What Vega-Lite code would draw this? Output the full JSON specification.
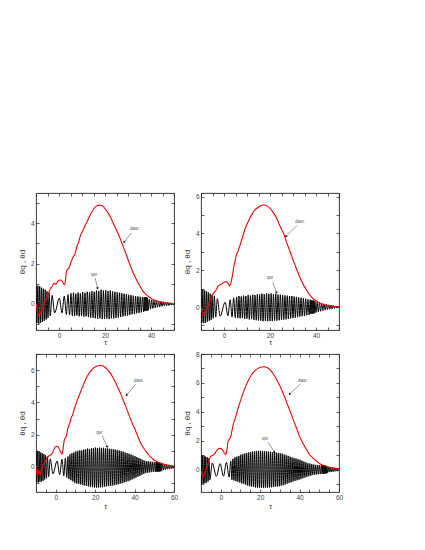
{
"$schema": "https://vega.github.io/schema/vega-lite/v6.json",
"padding": {"left": 17, "top": 192, "right": 5, "bottom": 5},
"background": "white",
"config": {
  "view": {"stroke": "#222", "strokeWidth": 0.9},
  "axis": {"grid": false, "domain": false, "tickSize": -3, "tickColor": "#222", "tickWidth": 0.7, "labelFont": "Liberation Sans", "labelFontSize": 6.5, "labelColor": "#444", "labelPadding": 5, "titleFont": "Liberation Sans", "titleFontSize": 8, "titleColor": "#333", "titleFontWeight": "normal", "labelFlush": false, "labelOverlap": false, "labelBound": false}
},
"datasets": {
"b1": [{"t":-10,"v":0.85},{"t":-9.6,"v":-0.95},{"t":-9.2,"v":0.9},{"t":-8.8,"v":-1.0},{"t":-8.4,"v":0.88},{"t":-8.0,"v":-0.95},{"t":-7.6,"v":0.8},{"t":-7.2,"v":-0.9},{"t":-6.8,"v":0.75},{"t":-6.4,"v":-0.85},{"t":-6.0,"v":0.7},{"t":-5.6,"v":-0.78},{"t":-5.2,"v":0.62},{"t":-4.8,"v":-0.7},{"t":-4.3,"v":0.55},{"t":-3.8,"v":-0.6},{"t":-3.0,"v":0.42},{"t":-1.9,"v":-0.45},{"t":0.15,"v":0.27},{"t":1.3,"v":-0.45},{"t":2.3,"v":0.38},{"t":3.2,"v":-0.53},{"t":3.9,"v":0.46},{"t":4.6,"v":-0.55},{"t":5.2,"v":0.52},{"t":5.8,"v":-0.6},
{"t":6.3,"v":0.55},{"t":6.8,"v":-0.6},{"t":7.3,"v":0.5},{"t":7.8,"v":-0.58},{"t":8.3,"v":0.56},{"t":8.8,"v":-0.62},{"t":9.3,"v":0.52},{"t":9.8,"v":-0.6},{"t":10.3,"v":0.58},{"t":10.8,"v":-0.64},{"t":11.3,"v":0.55},{"t":11.8,"v":-0.62},{"t":12.3,"v":0.6},{"t":12.8,"v":-0.66},{"t":13.3,"v":0.58},{"t":13.8,"v":-0.68},{"t":14.3,"v":0.63},{"t":14.8,"v":-0.7},{"t":15.3,"v":0.6},{"t":15.8,"v":-0.72},{"t":16.3,"v":0.66},{"t":16.8,"v":-0.74},{"t":17.3,"v":0.64},{"t":17.8,"v":-0.72},{"t":18.3,"v":0.7},{"t":18.8,"v":-0.76},{"t":19.3,"v":0.66},{"t":19.8,"v":-0.75},{"t":20.3,"v":0.68},{"t":20.8,"v":-0.74},{"t":21.3,"v":0.64},{"t":21.8,"v":-0.76},{"t":22.3,"v":0.66},{"t":22.8,"v":-0.72},{"t":23.3,"v":0.62},{"t":23.8,"v":-0.73},{"t":24.3,"v":0.6},{"t":24.8,"v":-0.7},{"t":25.3,"v":0.58},{"t":25.8,"v":-0.68},{"t":26.3,"v":0.55},{"t":26.8,"v":-0.66},{"t":27.3,"v":0.53},{"t":27.8,"v":-0.63},{"t":28.3,"v":0.5},{"t":28.8,"v":-0.6},{"t":29.3,"v":0.48},{"t":29.8,"v":-0.58},{"t":30.3,"v":0.45},{"t":30.8,"v":-0.55},{"t":31.3,"v":0.43},{"t":31.8,"v":-0.52},{"t":32.3,"v":0.4},{"t":32.8,"v":-0.5},{"t":33.3,"v":0.38},{"t":33.8,"v":-0.47},{"t":34.3,"v":0.37},{"t":34.8,"v":-0.45},{"t":35.3,"v":0.35},{"t":35.8,"v":-0.42},{"t":36.3,"v":0.34},{"t":36.8,"v":-0.4},{"t":37.05,"v":0.33},{"t":37.3,"v":-0.36},{"t":37.55,"v":0.34},{"t":37.8,"v":-0.36},{"t":38.05,"v":0.33},{"t":38.3,"v":-0.35},{"t":38.55,"v":0.3},{"t":38.8,"v":-0.32},{"t":39.3,"v":0.22},{"t":39.8,"v":-0.26},{"t":40.3,"v":0.2},{"t":40.8,"v":-0.23},{"t":41.3,"v":0.18},{"t":41.8,"v":-0.2},{"t":42.3,"v":0.16},{"t":42.8,"v":-0.17},{"t":43.3,"v":0.14},{"t":43.8,"v":-0.15},{"t":44.3,"v":0.12},{"t":44.8,"v":-0.13},{"t":45.3,"v":0.1},{"t":45.8,"v":-0.11},{"t":46.3,"v":0.09},{"t":46.8,"v":-0.09},{"t":47.3,"v":0.07},{"t":47.8,"v":-0.08},{"t":48.3,"v":0.06},{"t":48.8,"v":-0.06},{"t":49.3,"v":0.04},{"t":49.8,"v":-0.04},{"t":50,"v":0}],
"r1": [{"t":-10,"v":0.0},{"t":-9.3,"v":-0.45},{"t":-8.8,"v":-0.6},{"t":-8.0,"v":-0.45},{"t":-6.6,"v":0.0},{"t":-5.5,"v":0.3},{"t":-4.5,"v":0.55},{"t":-3.8,"v":0.75},{"t":-3.0,"v":0.85},{"t":-2.2,"v":1.02},{"t":-1.5,"v":0.97},{"t":-0.5,"v":1.12},{"t":0.6,"v":1.18},{"t":1.5,"v":1.12},{"t":2.3,"v":0.93},{"t":2.8,"v":1.15},{"t":3.2,"v":1.6},{"t":3.8,"v":1.72},{"t":4.2,"v":1.75},{"t":5.3,"v":2.1},{"t":6.3,"v":2.35},{"t":6.8,"v":2.42},{"t":7.8,"v":2.85},{"t":8.5,"v":3.05},{"t":9.2,"v":3.35},{"t":10.2,"v":3.6},{"t":11.4,"v":3.9},{"t":12.5,"v":4.15},{"t":13.5,"v":4.4},{"t":14.6,"v":4.62},{"t":15.7,"v":4.8},{"t":16.6,"v":4.87},{"t":17.6,"v":4.9},{"t":18.5,"v":4.88},{"t":19.3,"v":4.82},{"t":20.3,"v":4.68},{"t":21.4,"v":4.5},{"t":22.5,"v":4.27},{"t":23.6,"v":4.0},{"t":24.7,"v":3.73},{"t":25.8,"v":3.45},{"t":26.9,"v":3.15},{"t":27.9,"v":2.85},{"t":29.0,"v":2.52},{"t":30.0,"v":2.2},{"t":31.1,"v":1.87},{"t":32.2,"v":1.55},{"t":33.3,"v":1.28},{"t":34.4,"v":1.05},{"t":35.5,"v":0.82},{"t":36.5,"v":0.63},{"t":37.6,"v":0.5},{"t":38.7,"v":0.38},{"t":39.8,"v":0.29},{"t":40.9,"v":0.22},{"t":42.3,"v":0.15},{"t":43.7,"v":0.1},{"t":45.1,"v":0.07},{"t":46.6,"v":0.04},{"t":48.3,"v":0.02},{"t":50,"v":0.0}],
"b2": [{"t":-10,"v":0.95},{"t":-9.6,"v":-0.85},{"t":-9.2,"v":0.95},{"t":-8.8,"v":-0.88},{"t":-8.4,"v":0.9},{"t":-8.0,"v":-0.85},{"t":-7.6,"v":0.85},{"t":-7.2,"v":-0.8},{"t":-6.8,"v":0.8},{"t":-6.4,"v":-0.75},{"t":-6.0,"v":0.72},{"t":-5.6,"v":-0.7},{"t":-5.2,"v":0.65},{"t":-4.7,"v":-0.62},{"t":-4.2,"v":0.6},{"t":-3.6,"v":-0.55},{"t":-2.9,"v":0.45},{"t":-1.7,"v":-0.5},{"t":0.5,"v":0.26},{"t":1.7,"v":-0.48},{"t":2.7,"v":0.4},{"t":3.5,"v":-0.55},{"t":4.2,"v":0.5},{"t":4.9,"v":-0.58},{"t":5.5,"v":0.55},{"t":6.0,"v":-0.6},
{"t":6.5,"v":0.6},{"t":7.0,"v":-0.62},{"t":7.5,"v":0.57},{"t":8.0,"v":-0.6},{"t":8.5,"v":0.62},{"t":9.0,"v":-0.64},{"t":9.5,"v":0.6},{"t":10.0,"v":-0.63},{"t":10.5,"v":0.65},{"t":11.0,"v":-0.68},{"t":11.5,"v":0.62},{"t":12.0,"v":-0.66},{"t":12.5,"v":0.67},{"t":13.0,"v":-0.7},{"t":13.5,"v":0.65},{"t":14.0,"v":-0.72},{"t":14.5,"v":0.7},{"t":15.0,"v":-0.74},{"t":15.5,"v":0.68},{"t":16.0,"v":-0.75},{"t":16.5,"v":0.73},{"t":17.0,"v":-0.77},{"t":17.5,"v":0.7},{"t":18.0,"v":-0.76},{"t":18.5,"v":0.75},{"t":19.0,"v":-0.78},{"t":19.5,"v":0.72},{"t":20.0,"v":-0.76},{"t":20.5,"v":0.74},{"t":21.0,"v":-0.77},{"t":21.5,"v":0.7},{"t":22.0,"v":-0.75},{"t":22.5,"v":0.72},{"t":23.0,"v":-0.74},{"t":23.5,"v":0.68},{"t":24.0,"v":-0.72},{"t":24.5,"v":0.67},{"t":25.0,"v":-0.7},{"t":25.5,"v":0.65},{"t":26.0,"v":-0.69},{"t":26.5,"v":0.63},{"t":27.0,"v":-0.67},{"t":27.5,"v":0.62},{"t":28.0,"v":-0.65},{"t":28.5,"v":0.6},{"t":29.0,"v":-0.62},{"t":29.5,"v":0.6},{"t":30.0,"v":-0.6},{"t":30.5,"v":0.57},{"t":31.0,"v":-0.58},{"t":31.5,"v":0.55},{"t":32.0,"v":-0.55},{"t":32.5,"v":0.52},{"t":33.0,"v":-0.52},{"t":33.5,"v":0.5},{"t":34.0,"v":-0.5},{"t":34.5,"v":0.47},{"t":35.0,"v":-0.48},{"t":35.5,"v":0.45},{"t":36.0,"v":-0.45},{"t":36.5,"v":0.42},{"t":37.0,"v":-0.43},{"t":37.5,"v":0.4},{"t":37.75,"v":-0.38},{"t":38.0,"v":0.37},{"t":38.25,"v":-0.37},{"t":38.5,"v":0.36},{"t":38.75,"v":-0.36},{"t":39.0,"v":0.35},{"t":39.25,"v":-0.34},{"t":39.5,"v":0.32},{"t":40.0,"v":-0.3},{"t":40.5,"v":0.28},{"t":41.0,"v":-0.27},{"t":41.5,"v":0.24},{"t":42.0,"v":-0.23},{"t":42.5,"v":0.2},{"t":43.0,"v":-0.2},{"t":43.5,"v":0.17},{"t":44.0,"v":-0.17},{"t":44.5,"v":0.14},{"t":45.0,"v":-0.14},{"t":45.5,"v":0.12},{"t":46.0,"v":-0.12},{"t":46.5,"v":0.1},{"t":47.0,"v":-0.1},{"t":47.5,"v":0.08},{"t":48.0,"v":-0.08},{"t":48.5,"v":0.06},{"t":49.0,"v":-0.06},{"t":49.5,"v":0.04},{"t":50.0,"v":-0.03}],
"r2": [{"t":-10,"v":0.0},{"t":-9.3,"v":-0.35},{"t":-8.7,"v":-0.45},{"t":-8.0,"v":-0.3},{"t":-7.0,"v":0.0},{"t":-6.2,"v":0.3},{"t":-5.5,"v":0.55},{"t":-4.5,"v":0.75},{"t":-3.3,"v":0.95},{"t":-2.5,"v":1.15},{"t":-1.9,"v":1.2},{"t":-1.0,"v":1.25},{"t":0.0,"v":1.35},{"t":1.0,"v":1.38},{"t":1.8,"v":1.28},{"t":2.4,"v":1.15},{"t":3.0,"v":1.3},{"t":3.5,"v":1.6},{"t":4.3,"v":2.2},{"t":4.8,"v":2.5},{"t":5.3,"v":2.8},{"t":6.0,"v":3.0},{"t":6.8,"v":3.3},{"t":7.8,"v":3.7},{"t":8.9,"v":4.15},{"t":10.0,"v":4.5},{"t":11.1,"v":4.8},{"t":12.2,"v":5.05},{"t":13.2,"v":5.25},{"t":14.3,"v":5.37},{"t":15.4,"v":5.47},{"t":16.5,"v":5.53},{"t":17.6,"v":5.55},{"t":18.6,"v":5.5},{"t":19.7,"v":5.4},{"t":20.8,"v":5.24},{"t":21.9,"v":5.05},{"t":23.0,"v":4.8},{"t":24.0,"v":4.5},{"t":25.1,"v":4.2},{"t":26.2,"v":3.9},{"t":27.2,"v":3.53},{"t":28.3,"v":3.15},{"t":29.4,"v":2.78},{"t":30.5,"v":2.4},{"t":31.6,"v":2.05},{"t":32.7,"v":1.7},{"t":33.7,"v":1.42},{"t":34.8,"v":1.15},{"t":35.9,"v":0.92},{"t":37.0,"v":0.7},{"t":38.0,"v":0.55},{"t":39.1,"v":0.42},{"t":40.5,"v":0.3},{"t":42.0,"v":0.2},{"t":43.5,"v":0.13},{"t":44.9,"v":0.09},{"t":46.5,"v":0.06},{"t":48.2,"v":0.03},{"t":50,"v":0.02}],
"b3": [{"t":-10,"v":0.95},{"t":-9.6,"v":-0.95},{"t":-9.2,"v":1.0},{"t":-8.8,"v":-0.97},{"t":-8.4,"v":0.95},{"t":-8.0,"v":-0.92},{"t":-7.6,"v":0.9},{"t":-7.2,"v":-0.9},{"t":-6.8,"v":0.85},{"t":-6.4,"v":-0.85},{"t":-6.0,"v":0.8},{"t":-5.6,"v":-0.78},{"t":-5.2,"v":0.72},{"t":-4.7,"v":-0.7},{"t":-4.2,"v":0.65},{"t":-3.6,"v":-0.6},{"t":-2.8,"v":0.5},{"t":-1.4,"v":-0.42},{"t":0.7,"v":0.37},{"t":2.0,"v":-0.47},{"t":3.2,"v":0.48},{"t":4.1,"v":-0.55},{"t":4.9,"v":0.55},{"t":5.6,"v":-0.65},{"t":6.2,"v":0.65},
{"t":6.7,"v":-0.75},{"t":7.2,"v":0.78},{"t":7.7,"v":-0.82},{"t":8.2,"v":0.85},{"t":8.7,"v":-0.9},{"t":9.2,"v":0.9},{"t":9.7,"v":-0.98},{"t":10.2,"v":0.97},{"t":10.7,"v":-1.03},{"t":11.2,"v":1.0},{"t":11.7,"v":-1.05},{"t":12.2,"v":1.03},{"t":12.7,"v":-1.08},{"t":13.2,"v":1.02},{"t":13.7,"v":-1.12},{"t":14.2,"v":1.08},{"t":14.7,"v":-1.15},{"t":15.2,"v":1.1},{"t":15.7,"v":-1.18},{"t":16.2,"v":1.14},{"t":16.7,"v":-1.2},{"t":17.2,"v":1.12},{"t":17.7,"v":-1.23},{"t":18.2,"v":1.17},{"t":18.7,"v":-1.25},{"t":19.2,"v":1.18},{"t":19.7,"v":-1.27},{"t":20.2,"v":1.2},{"t":20.7,"v":-1.28},{"t":21.2,"v":1.17},{"t":21.7,"v":-1.27},{"t":22.2,"v":1.2},{"t":22.7,"v":-1.26},{"t":23.2,"v":1.18},{"t":23.7,"v":-1.25},{"t":24.2,"v":1.19},{"t":24.7,"v":-1.22},{"t":25.2,"v":1.15},{"t":25.7,"v":-1.2},{"t":26.2,"v":1.16},{"t":26.7,"v":-1.18},{"t":27.2,"v":1.13},{"t":27.7,"v":-1.17},{"t":28.2,"v":1.12},{"t":28.7,"v":-1.15},{"t":29.2,"v":1.1},{"t":29.7,"v":-1.13},{"t":30.2,"v":1.08},{"t":30.7,"v":-1.1},{"t":31.2,"v":1.05},{"t":31.7,"v":-1.07},{"t":32.2,"v":1.02},{"t":32.7,"v":-1.04},{"t":33.2,"v":0.98},{"t":33.7,"v":-1.0},{"t":34.2,"v":0.95},{"t":34.7,"v":-0.96},{"t":35.2,"v":0.9},{"t":35.7,"v":-0.92},{"t":36.2,"v":0.86},{"t":36.7,"v":-0.88},{"t":37.2,"v":0.82},{"t":37.7,"v":-0.83},{"t":38.2,"v":0.77},{"t":38.7,"v":-0.78},{"t":39.2,"v":0.72},{"t":39.7,"v":-0.72},{"t":40.2,"v":0.67},{"t":40.7,"v":-0.66},{"t":41.2,"v":0.62},{"t":41.7,"v":-0.6},{"t":42.2,"v":0.56},{"t":42.7,"v":-0.55},{"t":43.2,"v":0.5},{"t":43.7,"v":-0.48},{"t":44.2,"v":0.44},{"t":44.7,"v":-0.42},{"t":45.2,"v":0.39},{"t":45.7,"v":-0.38},{"t":46.2,"v":0.36},{"t":46.7,"v":-0.35},{"t":47.2,"v":0.34},{"t":47.7,"v":-0.33},{"t":48.2,"v":0.33},{"t":48.7,"v":-0.32},{"t":49.2,"v":0.32},{"t":49.7,"v":-0.31},{"t":50.2,"v":0.31},{"t":50.7,"v":-0.3},{"t":51.0,"v":0.3},{"t":51.25,"v":-0.3},{"t":51.5,"v":0.3},{"t":51.75,"v":-0.3},{"t":52.0,"v":0.29},{"t":52.25,"v":-0.29},{"t":52.5,"v":0.28},{"t":52.75,"v":-0.28},{"t":53.0,"v":0.27},{"t":53.25,"v":-0.27},{"t":53.5,"v":0.25},{"t":53.75,"v":-0.25},{"t":54.2,"v":0.2},{"t":54.7,"v":-0.19},{"t":55.2,"v":0.17},{"t":55.7,"v":-0.16},{"t":56.2,"v":0.15},{"t":56.7,"v":-0.14},{"t":57.2,"v":0.13},{"t":57.7,"v":-0.12},{"t":58.2,"v":0.11},{"t":58.7,"v":-0.1},{"t":59.2,"v":0.09},{"t":59.7,"v":-0.08},{"t":60.0,"v":0.05}],
"r3": [{"t":-10,"v":0.1},{"t":-9.3,"v":-0.6},{"t":-8.6,"v":-0.2},{"t":-7.8,"v":-0.5},{"t":-6.8,"v":0.0},{"t":-5.5,"v":0.3},{"t":-4.5,"v":0.55},{"t":-3.5,"v":0.68},{"t":-2.5,"v":0.75},{"t":-1.5,"v":0.9},{"t":-0.5,"v":1.2},{"t":0.3,"v":1.28},{"t":1.2,"v":1.25},{"t":2.2,"v":1.0},{"t":3.2,"v":0.79},{"t":3.8,"v":1.2},{"t":4.4,"v":1.7},{"t":5.4,"v":1.9},{"t":6.0,"v":2.3},{"t":6.6,"v":2.55},{"t":7.2,"v":2.75},{"t":7.8,"v":3.05},{"t":8.5,"v":3.2},{"t":9.2,"v":3.5},{"t":10.0,"v":3.8},{"t":10.8,"v":4.1},{"t":12.1,"v":4.5},{"t":13.4,"v":4.9},{"t":14.6,"v":5.25},{"t":15.9,"v":5.6},{"t":17.2,"v":5.85},{"t":18.5,"v":6.05},{"t":19.7,"v":6.18},{"t":21.0,"v":6.25},{"t":22.0,"v":6.29},{"t":23.0,"v":6.3},{"t":24.1,"v":6.25},{"t":25.3,"v":6.15},{"t":26.5,"v":6.0},{"t":27.8,"v":5.8},{"t":29.0,"v":5.55},{"t":30.3,"v":5.25},{"t":31.6,"v":4.9},{"t":32.9,"v":4.55},{"t":34.1,"v":4.18},{"t":35.4,"v":3.8},{"t":36.7,"v":3.37},{"t":38.0,"v":2.95},{"t":39.2,"v":2.6},{"t":40.5,"v":2.25},{"t":41.8,"v":1.85},{"t":43.0,"v":1.5},{"t":44.3,"v":1.22},{"t":45.6,"v":1.0},{"t":46.9,"v":0.8},{"t":48.1,"v":0.62},{"t":49.4,"v":0.48},{"t":50.7,"v":0.37},{"t":52.0,"v":0.29},{"t":53.2,"v":0.23},{"t":54.9,"v":0.17},{"t":56.6,"v":0.12},{"t":58.3,"v":0.09},{"t":60,"v":0.06}],
"b4": [{"t":-10,"v":0.95},{"t":-9.6,"v":-1.0},{"t":-9.2,"v":0.98},{"t":-8.8,"v":-0.97},{"t":-8.4,"v":0.95},{"t":-8.0,"v":-0.95},{"t":-7.6,"v":0.9},{"t":-7.2,"v":-0.9},{"t":-6.8,"v":0.85},{"t":-6.4,"v":-0.82},{"t":-6.0,"v":0.78},{"t":-5.5,"v":-0.7},{"t":-4.3,"v":0.46},{"t":-2.2,"v":-0.46},{"t":-0.3,"v":0.41},{"t":1.4,"v":-0.46},{"t":2.9,"v":0.5},{"t":4.3,"v":-0.52},{"t":5.1,"v":0.6},{"t":5.7,"v":-0.7},
{"t":6.2,"v":0.75},{"t":6.7,"v":-0.75},{"t":7.2,"v":0.85},{"t":7.7,"v":-0.8},{"t":8.2,"v":0.9},{"t":8.7,"v":-0.85},{"t":9.2,"v":0.95},{"t":9.7,"v":-0.9},{"t":10.2,"v":1.03},{"t":10.7,"v":-0.95},{"t":11.2,"v":1.07},{"t":11.7,"v":-1.0},{"t":12.2,"v":1.12},{"t":12.7,"v":-1.05},{"t":13.2,"v":1.15},{"t":13.7,"v":-1.1},{"t":14.2,"v":1.2},{"t":14.7,"v":-1.15},{"t":15.2,"v":1.22},{"t":15.7,"v":-1.18},{"t":16.2,"v":1.25},{"t":16.7,"v":-1.2},{"t":17.2,"v":1.27},{"t":17.7,"v":-1.23},{"t":18.2,"v":1.29},{"t":18.7,"v":-1.25},{"t":19.2,"v":1.3},{"t":19.7,"v":-1.26},{"t":20.2,"v":1.3},{"t":20.7,"v":-1.27},{"t":21.2,"v":1.29},{"t":21.7,"v":-1.27},{"t":22.2,"v":1.28},{"t":22.7,"v":-1.26},{"t":23.2,"v":1.27},{"t":23.7,"v":-1.25},{"t":24.2,"v":1.25},{"t":24.7,"v":-1.23},{"t":25.2,"v":1.23},{"t":25.7,"v":-1.22},{"t":26.2,"v":1.21},{"t":26.7,"v":-1.2},{"t":27.2,"v":1.19},{"t":27.7,"v":-1.18},{"t":28.2,"v":1.17},{"t":28.7,"v":-1.16},{"t":29.2,"v":1.15},{"t":29.7,"v":-1.15},{"t":30.2,"v":1.13},{"t":30.7,"v":-1.12},{"t":31.2,"v":1.1},{"t":31.7,"v":-1.08},{"t":32.2,"v":1.05},{"t":32.7,"v":-1.03},{"t":33.2,"v":1.0},{"t":33.7,"v":-0.98},{"t":34.2,"v":0.95},{"t":34.7,"v":-0.93},{"t":35.2,"v":0.9},{"t":35.7,"v":-0.88},{"t":36.2,"v":0.85},{"t":36.7,"v":-0.83},{"t":37.2,"v":0.8},{"t":37.7,"v":-0.78},{"t":38.2,"v":0.76},{"t":38.7,"v":-0.74},{"t":39.2,"v":0.72},{"t":39.7,"v":-0.7},{"t":40.2,"v":0.68},{"t":40.7,"v":-0.66},{"t":41.2,"v":0.62},{"t":41.7,"v":-0.6},{"t":42.2,"v":0.56},{"t":42.7,"v":-0.55},{"t":43.2,"v":0.5},{"t":43.7,"v":-0.5},{"t":44.2,"v":0.45},{"t":44.7,"v":-0.46},{"t":45.2,"v":0.42},{"t":45.7,"v":-0.42},{"t":46.2,"v":0.38},{"t":46.7,"v":-0.38},{"t":47.2,"v":0.35},{"t":47.7,"v":-0.35},{"t":48.2,"v":0.33},{"t":48.7,"v":-0.33},{"t":49.2,"v":0.32},{"t":49.7,"v":-0.32},{"t":50.2,"v":0.31},{"t":50.7,"v":-0.31},{"t":51.2,"v":0.31},{"t":51.5,"v":-0.3},{"t":51.75,"v":0.3},{"t":52.0,"v":-0.3},{"t":52.25,"v":0.29},{"t":52.5,"v":-0.29},{"t":52.75,"v":0.28},{"t":53.0,"v":-0.28},{"t":53.25,"v":0.27},{"t":53.5,"v":-0.26},{"t":53.75,"v":0.25},{"t":54.0,"v":-0.24},{"t":54.5,"v":0.2},{"t":55.0,"v":-0.18},{"t":55.5,"v":0.17},{"t":56.0,"v":-0.16},{"t":56.5,"v":0.15},{"t":57.0,"v":-0.14},{"t":57.5,"v":0.13},{"t":58.0,"v":-0.12},{"t":58.5,"v":0.12},{"t":59.0,"v":-0.11},{"t":59.5,"v":0.1},{"t":60.0,"v":-0.06}],
"r4": [{"t":-10,"v":-0.1},{"t":-9.0,"v":-0.5},{"t":-8.2,"v":-0.3},{"t":-7.2,"v":0.1},{"t":-6.2,"v":0.55},{"t":-5.1,"v":0.92},{"t":-4.2,"v":0.98},{"t":-3.4,"v":1.03},{"t":-2.4,"v":1.25},{"t":-1.4,"v":1.43},{"t":-0.3,"v":1.47},{"t":0.8,"v":1.38},{"t":1.7,"v":1.18},{"t":2.6,"v":1.03},{"t":3.2,"v":1.4},{"t":3.7,"v":1.95},{"t":4.4,"v":2.1},{"t":5.1,"v":2.3},{"t":5.8,"v":2.75},{"t":6.5,"v":3.2},{"t":7.1,"v":3.45},{"t":7.7,"v":3.7},{"t":8.5,"v":4.1},{"t":9.4,"v":4.5},{"t":10.6,"v":5.0},{"t":11.9,"v":5.5},{"t":13.2,"v":5.95},{"t":14.5,"v":6.3},{"t":15.7,"v":6.58},{"t":17.0,"v":6.8},{"t":18.3,"v":6.95},{"t":19.6,"v":7.05},{"t":20.9,"v":7.1},{"t":22.1,"v":7.12},{"t":23.4,"v":7.07},{"t":24.7,"v":6.95},{"t":26.0,"v":6.75},{"t":27.3,"v":6.5},{"t":28.5,"v":6.2},{"t":29.8,"v":5.85},{"t":31.1,"v":5.45},{"t":32.4,"v":5.05},{"t":33.6,"v":4.6},{"t":34.9,"v":4.15},{"t":36.2,"v":3.68},{"t":37.5,"v":3.2},{"t":38.8,"v":2.75},{"t":40.0,"v":2.3},{"t":41.3,"v":1.93},{"t":42.6,"v":1.6},{"t":43.9,"v":1.3},{"t":45.1,"v":1.03},{"t":46.4,"v":0.85},{"t":47.7,"v":0.69},{"t":49.0,"v":0.54},{"t":50.3,"v":0.41},{"t":52.0,"v":0.3},{"t":53.7,"v":0.23},{"t":55.3,"v":0.16},{"t":57.0,"v":0.11},{"t":58.5,"v":0.09},{"t":60,"v":0.07}],
"ann": [{"p":1,"k":"d","lab":"dasr.","tx":33,"ty":3.72,"x":31.5,"y":3.52,"x2":28.3,"y2":3.06},{"p":1,"k":"q","lab":"qsr","tx":15.3,"ty":1.42,"x":15.7,"y":1.29,"x2":16.8,"y2":0.76},{"p":2,"k":"d","lab":"dasr.","tx":33.1,"ty":4.6,"x":31.7,"y":4.42,"x2":26.9,"y2":3.84},{"p":2,"k":"q","lab":"qsr","tx":20,"ty":1.56,"x":21.2,"y":1.33,"x2":22.9,"y2":0.78},{"p":3,"k":"d","lab":"dasr.","tx":42.2,"ty":5.34,"x":40.5,"y":5.13,"x2":35.9,"y2":4.45},{"p":3,"k":"q","lab":"qsr","tx":22.2,"ty":2.13,"x":23.6,"y":1.93,"x2":26.1,"y2":1.24},{"p":4,"k":"d","lab":"dasr.","tx":41.7,"ty":6.14,"x":40.5,"y":5.93,"x2":34.9,"y2":5.22},{"p":4,"k":"q","lab":"qsr","tx":22.5,"ty":2.14,"x":23.9,"y":1.91,"x2":27.3,"y2":1.2}]
},
"columns": 2,
"spacing": {"row": 24, "column": 27},
"bounds": "flush",
"concat": [
  {"width": 138, "height": 137,
   "layer": [
    {"data": {"name": "b1"}, "mark": {"type": "line", "color": "#000", "strokeWidth": 1.0, "interpolate": "monotone", "clip": true},
     "encoding": {"x": {"field": "t", "type": "quantitative", "scale": {"domain": [-10, 50], "nice": false, "zero": false}, "axis": {"orient": "bottom", "values": [-10,-5,0,5,10,15,20,25,30,35,40,45,50], "labelExpr": "datum.value % 20 === 0 ? datum.label : ''", "title": "τ", "titlePadding": 0, "titleFontSize": 7}},
      "y": {"field": "v", "type": "quantitative", "scale": {"domain": [-1.3, 5.5], "nice": false, "zero": false}, "axis": {"orient": "left", "values": [-1,0,1,2,3,4,5], "labelExpr": "datum.value % 2 === 0 ? datum.label : ''", "title": "θq , θd", "titlePadding": 4}}}},
    {"data": {"name": "r1"}, "mark": {"type": "line", "color": "#ff0000", "strokeWidth": 1.1, "interpolate": "monotone", "clip": true},
     "encoding": {"x": {"field": "t", "type": "quantitative", "axis": {"orient": "top", "values": [-10,-5,0,5,10,15,20,25,30,35,40,45,50], "labels": false, "title": null}},
      "y": {"field": "v", "type": "quantitative", "axis": {"orient": "right", "values": [-1,0,1,2,3,4,5], "labels": false, "title": null}}}},
    {"data": {"name": "ann"}, "transform": [{"filter": "datum.p === 1"}], "mark": {"type": "rule", "color": "#333", "strokeWidth": 0.5},
     "encoding": {"x": {"field": "x", "type": "quantitative", "axis": null}, "y": {"field": "y", "type": "quantitative", "axis": null}, "x2": {"field": "x2"}, "y2": {"field": "y2"}}},
    {"data": {"name": "ann"}, "transform": [{"filter": "datum.p === 1"}], "mark": {"type": "point", "shape": "triangle-up", "filled": true, "color": "#000", "size": 7, "opacity": 1},
     "encoding": {"x": {"field": "x2", "type": "quantitative", "axis": null}, "y": {"field": "y2", "type": "quantitative", "axis": null}, "angle": {"condition": {"test": "datum.k === 'd'", "value": 218}, "value": 166}}},
    {"data": {"name": "ann"}, "transform": [{"filter": "datum.p === 1"}], "mark": {"type": "text", "font": "Liberation Sans", "fontSize": 4.5, "color": "#555"},
     "encoding": {"x": {"field": "tx", "type": "quantitative", "axis": null}, "y": {"field": "ty", "type": "quantitative", "axis": null}, "text": {"field": "lab"}}}
   ],
   "resolve": {"axis": {"x": "independent", "y": "independent"}}},
  {"width": 138, "height": 137,
   "layer": [
    {"data": {"name": "b2"}, "mark": {"type": "line", "color": "#000", "strokeWidth": 1.0, "interpolate": "monotone", "clip": true},
     "encoding": {"x": {"field": "t", "type": "quantitative", "scale": {"domain": [-10, 50], "nice": false, "zero": false}, "axis": {"orient": "bottom", "values": [-10,-5,0,5,10,15,20,25,30,35,40,45,50], "labelExpr": "datum.value % 20 === 0 ? datum.label : ''", "title": "τ", "titlePadding": 0, "titleFontSize": 7}},
      "y": {"field": "v", "type": "quantitative", "scale": {"domain": [-1.25, 6.2], "nice": false, "zero": false}, "axis": {"orient": "left", "values": [-1,0,1,2,3,4,5,6], "labelExpr": "datum.value % 2 === 0 ? datum.label : ''", "title": "θq , θd", "titlePadding": 4}}}},
    {"data": {"name": "r2"}, "mark": {"type": "line", "color": "#ff0000", "strokeWidth": 1.1, "interpolate": "monotone", "clip": true},
     "encoding": {"x": {"field": "t", "type": "quantitative", "axis": {"orient": "top", "values": [-10,-5,0,5,10,15,20,25,30,35,40,45,50], "labels": false, "title": null}},
      "y": {"field": "v", "type": "quantitative", "axis": {"orient": "right", "values": [-1,0,1,2,3,4,5,6], "labels": false, "title": null}}}},
    {"data": {"name": "ann"}, "transform": [{"filter": "datum.p === 2"}], "mark": {"type": "rule", "color": "#333", "strokeWidth": 0.5},
     "encoding": {"x": {"field": "x", "type": "quantitative", "axis": null}, "y": {"field": "y", "type": "quantitative", "axis": null}, "x2": {"field": "x2"}, "y2": {"field": "y2"}}},
    {"data": {"name": "ann"}, "transform": [{"filter": "datum.p === 2"}], "mark": {"type": "point", "shape": "triangle-up", "filled": true, "color": "#000", "size": 7, "opacity": 1},
     "encoding": {"x": {"field": "x2", "type": "quantitative", "axis": null}, "y": {"field": "y2", "type": "quantitative", "axis": null}, "angle": {"condition": {"test": "datum.k === 'd'", "value": 222}, "value": 162}}},
    {"data": {"name": "ann"}, "transform": [{"filter": "datum.p === 2"}], "mark": {"type": "text", "font": "Liberation Sans", "fontSize": 4.5, "color": "#555"},
     "encoding": {"x": {"field": "tx", "type": "quantitative", "axis": null}, "y": {"field": "ty", "type": "quantitative", "axis": null}, "text": {"field": "lab"}}}
   ],
   "resolve": {"axis": {"x": "independent", "y": "independent"}}},
  {"width": 138, "height": 138,
   "layer": [
    {"data": {"name": "b3"}, "mark": {"type": "line", "color": "#000", "strokeWidth": 1.0, "interpolate": "monotone", "clip": true},
     "encoding": {"x": {"field": "t", "type": "quantitative", "scale": {"domain": [-10, 60], "nice": false, "zero": false}, "axis": {"orient": "bottom", "values": [-10,-5,0,5,10,15,20,25,30,35,40,45,50,55,60], "labelExpr": "datum.value % 20 === 0 ? datum.label : ''", "title": "τ", "titlePadding": 2, "titleFontSize": 7}},
      "y": {"field": "v", "type": "quantitative", "scale": {"domain": [-1.55, 7.0], "nice": false, "zero": false}, "axis": {"orient": "left", "values": [-1,0,1,2,3,4,5,6,7], "labelExpr": "datum.value % 2 === 0 ? datum.label : ''", "title": "θq , θd", "titlePadding": 4}}}},
    {"data": {"name": "r3"}, "mark": {"type": "line", "color": "#ff0000", "strokeWidth": 1.1, "interpolate": "monotone", "clip": true},
     "encoding": {"x": {"field": "t", "type": "quantitative", "axis": {"orient": "top", "values": [-10,-5,0,5,10,15,20,25,30,35,40,45,50,55,60], "labels": false, "title": null}},
      "y": {"field": "v", "type": "quantitative", "axis": {"orient": "right", "values": [-1,0,1,2,3,4,5,6,7], "labels": false, "title": null}}}},
    {"data": {"name": "ann"}, "transform": [{"filter": "datum.p === 3"}], "mark": {"type": "rule", "color": "#333", "strokeWidth": 0.5},
     "encoding": {"x": {"field": "x", "type": "quantitative", "axis": null}, "y": {"field": "y", "type": "quantitative", "axis": null}, "x2": {"field": "x2"}, "y2": {"field": "y2"}}},
    {"data": {"name": "ann"}, "transform": [{"filter": "datum.p === 3"}], "mark": {"type": "point", "shape": "triangle-up", "filled": true, "color": "#000", "size": 7, "opacity": 1},
     "encoding": {"x": {"field": "x2", "type": "quantitative", "axis": null}, "y": {"field": "y2", "type": "quantitative", "axis": null}, "angle": {"condition": {"test": "datum.k === 'd'", "value": 222}, "value": 160}}},
    {"data": {"name": "ann"}, "transform": [{"filter": "datum.p === 3"}], "mark": {"type": "text", "font": "Liberation Sans", "fontSize": 4.5, "color": "#555"},
     "encoding": {"x": {"field": "tx", "type": "quantitative", "axis": null}, "y": {"field": "ty", "type": "quantitative", "axis": null}, "text": {"field": "lab"}}}
   ],
   "resolve": {"axis": {"x": "independent", "y": "independent"}}},
  {"width": 138, "height": 138,
   "layer": [
    {"data": {"name": "b4"}, "mark": {"type": "line", "color": "#000", "strokeWidth": 1.0, "interpolate": "monotone", "clip": true},
     "encoding": {"x": {"field": "t", "type": "quantitative", "scale": {"domain": [-10, 60], "nice": false, "zero": false}, "axis": {"orient": "bottom", "values": [-10,-5,0,5,10,15,20,25,30,35,40,45,50,55,60], "labelExpr": "datum.value % 20 === 0 ? datum.label : ''", "title": "τ", "titlePadding": 2, "titleFontSize": 7}},
      "y": {"field": "v", "type": "quantitative", "scale": {"domain": [-1.55, 8.0], "nice": false, "zero": false}, "axis": {"orient": "left", "values": [-1,0,1,2,3,4,5,6,7,8], "labelExpr": "datum.value % 2 === 0 ? datum.label : ''", "title": "θq , θd", "titlePadding": 4}}}},
    {"data": {"name": "r4"}, "mark": {"type": "line", "color": "#ff0000", "strokeWidth": 1.1, "interpolate": "monotone", "clip": true},
     "encoding": {"x": {"field": "t", "type": "quantitative", "axis": {"orient": "top", "values": [-10,-5,0,5,10,15,20,25,30,35,40,45,50,55,60], "labels": false, "title": null}},
      "y": {"field": "v", "type": "quantitative", "axis": {"orient": "right", "values": [-1,0,1,2,3,4,5,6,7,8], "labels": false, "title": null}}}},
    {"data": {"name": "ann"}, "transform": [{"filter": "datum.p === 4"}], "mark": {"type": "rule", "color": "#333", "strokeWidth": 0.5},
     "encoding": {"x": {"field": "x", "type": "quantitative", "axis": null}, "y": {"field": "y", "type": "quantitative", "axis": null}, "x2": {"field": "x2"}, "y2": {"field": "y2"}}},
    {"data": {"name": "ann"}, "transform": [{"filter": "datum.p === 4"}], "mark": {"type": "point", "shape": "triangle-up", "filled": true, "color": "#000", "size": 7, "opacity": 1},
     "encoding": {"x": {"field": "x2", "type": "quantitative", "axis": null}, "y": {"field": "y2", "type": "quantitative", "axis": null}, "angle": {"condition": {"test": "datum.k === 'd'", "value": 226}, "value": 150}}},
    {"data": {"name": "ann"}, "transform": [{"filter": "datum.p === 4"}], "mark": {"type": "text", "font": "Liberation Sans", "fontSize": 4.5, "color": "#555"},
     "encoding": {"x": {"field": "tx", "type": "quantitative", "axis": null}, "y": {"field": "ty", "type": "quantitative", "axis": null}, "text": {"field": "lab"}}}
   ],
   "resolve": {"axis": {"x": "independent", "y": "independent"}}}
]
}
